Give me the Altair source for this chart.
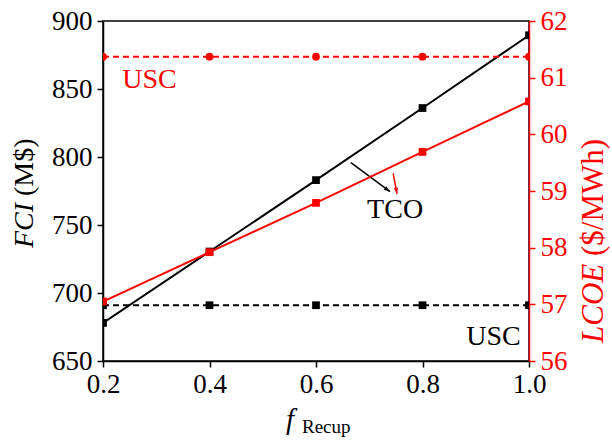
import altair as alt
import pandas as pd

# Recuperation fraction (x) and the two y-series per case
f_recup = [0.2, 0.4, 0.6, 0.8, 1.0]
fci_tco = [678, 730.5, 783, 836, 889.5]
fci_usc = [691, 691, 691, 691, 691]
lcoe_tco = [57.05, 57.92, 58.79, 59.69, 60.58]
lcoe_usc = [61.37, 61.37, 61.37, 61.37, 61.37]

x_ticks = [0.2, 0.4, 0.6, 0.8, 1.0]
fci_ticks = [650, 700, 750, 800, 850, 900]
lcoe_ticks = [56, 57, 58, 59, 60, 61, 62]

# annotations: label text, x, y (in the units of the axis they belong to)
black_labels = ["TCO", "USC"]
black_label_x = [0.696, 0.882]
black_label_y = [755.1, 661.8]
red_labels = ["USC"]
red_label_x = [0.236]
red_label_y = [60.82]

# arrows pointing from the curves to the "TCO" label
black_arrow = {"x": 0.6655, "y": 795.8, "x2": 0.739, "y2": 774.5, "angle": 126.4}
red_arrow = {"x": 0.745, "y": 59.31, "x2": 0.752, "y2": 58.95, "angle": 170.7}

RED = "#ff0000"
BLACK = "#000000"
FONT = "Liberation Serif"
W, H = 426, 340
ARROWHEAD = "M0,0L-0.45,1.3L0.45,1.3Z"

fci_df = pd.DataFrame({"f": f_recup, "tco": fci_tco, "usc": fci_usc})
lcoe_df = pd.DataFrame({"f": f_recup, "tco": lcoe_tco, "usc": lcoe_usc})

x_scale = alt.Scale(domain=[0.2, 1.0], nice=False, zero=False)
x_axis = alt.Axis(values=x_ticks, format=".1f", title=None, orient="bottom",
                  labelFontSize=27, labelColor=BLACK, labelPadding=4,
                  labelFlush=False, labelOverlap=False,
                  tickSize=6, tickColor=BLACK, tickWidth=1.5,
                  domainColor=BLACK, domainWidth=1.5, grid=False)
fci_scale = alt.Scale(domain=[650, 900], nice=False, zero=False)
fci_axis = alt.Axis(values=fci_ticks, title=None, orient="left",
                    labelFontSize=27, labelColor=BLACK, labelPadding=5,
                    labelFlush=False, labelOverlap=False,
                    tickSize=6, tickColor=BLACK, tickWidth=1.5,
                    domainColor=BLACK, domainWidth=1.5, grid=False)
lcoe_scale = alt.Scale(domain=[56, 62], nice=False, zero=False)
lcoe_axis = alt.Axis(values=lcoe_ticks, title=None, orient="right",
                     labelFontSize=27, labelColor=RED, labelPadding=5,
                     labelFlush=False, labelOverlap=False,
                     tickSize=6, tickColor=RED, tickWidth=1.5,
                     domainColor=RED, domainWidth=1.5, grid=False)


def X(field):
    return alt.X(field, scale=x_scale, axis=x_axis)


def YL(field):
    return alt.Y(field, scale=fci_scale, axis=fci_axis)


def YR(field):
    return alt.Y(field, scale=lcoe_scale, axis=lcoe_axis)


# ---- left axis (FCI, black)
fci_base = alt.Chart(fci_df)
fci_tco_line = fci_base.mark_line(color=BLACK, strokeWidth=2, clip=True).encode(
    x=X("f:Q"), y=YL("tco:Q"))
fci_tco_pts = fci_base.mark_point(shape="square", filled=True, color=BLACK, size=60,
                                  opacity=1, clip=True).encode(
    x=X("f:Q"), y=YL("tco:Q"))
fci_usc_line = fci_base.mark_line(color=BLACK, strokeWidth=2, strokeDash=[6, 4],
                                  clip=True).encode(
    x=X("f:Q"), y=YL("usc:Q"))
fci_usc_pts = fci_base.mark_point(shape="square", filled=True, color=BLACK, size=60,
                                  opacity=1, clip=True).encode(
    x=X("f:Q"), y=YL("usc:Q"))

black_text = alt.Chart(pd.DataFrame({"t": black_labels, "x": black_label_x,
                                     "y": black_label_y})).mark_text(
    font=FONT, fontSize=28, color=BLACK, align="left", baseline="alphabetic").encode(
    x=X("x:Q"), y=YL("y:Q"), text="t:N")

barrow_df = pd.DataFrame([black_arrow])
black_arrow_rule = alt.Chart(barrow_df).mark_rule(color=BLACK, strokeWidth=1.5).encode(
    x=X("x:Q"), x2="x2:Q", y=YL("y:Q"), y2="y2:Q")
black_arrow_head = alt.Chart(barrow_df).mark_point(
    shape=ARROWHEAD, filled=True, color=BLACK, size=90, opacity=1,
    angle=black_arrow["angle"]).encode(x=X("x2:Q"), y=YL("y2:Q"))

# rotated left title: italic FCI followed by (M$)
fci_title_a = alt.Chart(pd.DataFrame({"t": ["FCI"]})).mark_text(
    font=FONT, fontSize=28, fontStyle="italic", color=BLACK, angle=270,
    align="left", baseline="alphabetic").encode(
    x=alt.value(-70), y=alt.value(227), text="t:N")
fci_title_b = alt.Chart(pd.DataFrame({"t": ["(M$)"]})).mark_text(
    font=FONT, fontSize=28, color=BLACK, angle=270,
    align="left", baseline="alphabetic").encode(
    x=alt.value(-70), y=alt.value(175), text="t:N")

# x title: italic f with subscript Recup
x_title_f = alt.Chart(pd.DataFrame({"t": ["f"]})).mark_text(
    font=FONT, fontSize=29, fontStyle="italic", color=BLACK,
    align="left", baseline="alphabetic").encode(
    x=alt.value(183), y=alt.value(408), text="t:N")
x_title_sub = alt.Chart(pd.DataFrame({"t": ["Recup"]})).mark_text(
    font=FONT, fontSize=19, color=BLACK,
    align="left", baseline="alphabetic").encode(
    x=alt.value(199), y=alt.value(412), text="t:N")

left = alt.layer(fci_usc_line, fci_usc_pts, fci_tco_line, fci_tco_pts, black_text,
                 black_arrow_rule, black_arrow_head, fci_title_a, fci_title_b,
                 x_title_f, x_title_sub)

# ---- right axis (LCOE, red)
lcoe_base = alt.Chart(lcoe_df)
lcoe_tco_line = lcoe_base.mark_line(color=RED, strokeWidth=2, clip=True).encode(
    x=X("f:Q"), y=YR("tco:Q"))
lcoe_tco_pts = lcoe_base.mark_point(shape="square", filled=True, color=RED, size=60,
                                    opacity=1, clip=True).encode(
    x=X("f:Q"), y=YR("tco:Q"))
lcoe_usc_line = lcoe_base.mark_line(color=RED, strokeWidth=2, strokeDash=[6, 4],
                                    clip=True).encode(
    x=X("f:Q"), y=YR("usc:Q"))
lcoe_usc_pts = lcoe_base.mark_point(shape="circle", filled=True, color=RED, size=60,
                                    opacity=1, clip=True).encode(
    x=X("f:Q"), y=YR("usc:Q"))

red_text = alt.Chart(pd.DataFrame({"t": red_labels, "x": red_label_x,
                                   "y": red_label_y})).mark_text(
    font=FONT, fontSize=28, color=RED, align="left", baseline="alphabetic").encode(
    x=X("x:Q"), y=YR("y:Q"), text="t:N")

rarrow_df = pd.DataFrame([red_arrow])
red_arrow_rule = alt.Chart(rarrow_df).mark_rule(color=RED, strokeWidth=1.5).encode(
    x=X("x:Q"), x2="x2:Q", y=YR("y:Q"), y2="y2:Q")
red_arrow_head = alt.Chart(rarrow_df).mark_point(
    shape=ARROWHEAD, filled=True, color=RED, size=90, opacity=1,
    angle=red_arrow["angle"]).encode(x=X("x2:Q"), y=YR("y2:Q"))

# rotated right title: italic LCOE followed by ($/MWh)
lcoe_title_a = alt.Chart(pd.DataFrame({"t": ["LCOE"]})).mark_text(
    font=FONT, fontSize=31, fontStyle="italic", color=RED, angle=270,
    align="left", baseline="alphabetic").encode(
    x=alt.value(W + 74), y=alt.value(322), text="t:N")
lcoe_title_b = alt.Chart(pd.DataFrame({"t": ["($/MWh)"]})).mark_text(
    font=FONT, fontSize=31, color=RED, angle=270,
    align="left", baseline="alphabetic").encode(
    x=alt.value(W + 74), y=alt.value(235), text="t:N")

right = alt.layer(lcoe_usc_line, lcoe_usc_pts, lcoe_tco_line, lcoe_tco_pts, red_text,
                  red_arrow_rule, red_arrow_head, lcoe_title_a, lcoe_title_b)

chart = alt.layer(left, right).resolve_scale(y="independent").properties(
    width=W, height=H,
    autosize=alt.AutoSizeParams(type="none"),
    padding={"left": 103, "top": 21, "right": 83, "bottom": 82},
    background="white",
).configure_view(
    stroke=BLACK, strokeWidth=1.5
).configure_axis(
    labelFont=FONT, titleFont=FONT
).configure_text(font=FONT)

chart.save("out.html", embed_options={"renderer": "svg", "actions": False})
